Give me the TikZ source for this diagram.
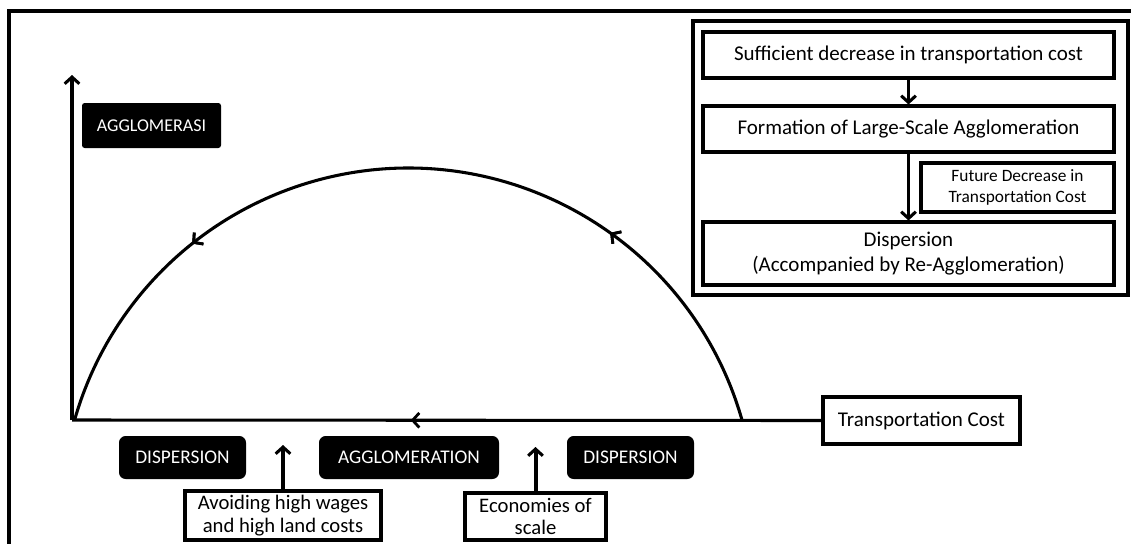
\documentclass[tikz,border=0pt]{standalone}
\usepackage{fontspec}
\setmainfont{Carlito}
\usetikzlibrary{arrows.meta,decorations.markings,positioning}

\begin{document}
\begin{tikzpicture}[x=0.75pt,y=-0.75pt,line width=2.3pt,
	whitebox/.style={draw,line width=2.3pt,fill=white,inner sep=0pt,align=center,font=\fontsize{15.75}{18.5}\selectfont},
	blackbox/.style={fill=black,rounded corners=5pt,text=white,inner sep=0pt,font=\fontsize{14.5}{17}\selectfont},
	barb/.style={-{Straight Barb[length=5pt,width=11pt,line width=2.3pt]}},
	midleft/.style={postaction={decorate},decoration={markings,
		mark=at position #1 with {\arrow{Straight Barb[length=5pt,width=11pt,line width=2.1pt]}}}}]
	
	\useasboundingbox (0,0) rectangle (1131,543);
	
	% frame
	\draw (9,560) -- (9,11) -- (1140,11);
	
	\coordinate (origin) at (72,420);
	\coordinate (ytip) at (72,75);
	\coordinate (arcR) at (742,420);
	
	% axes
	\draw[barb] (origin) -- (ytip);
	\node[blackbox,rounded corners=2pt,minimum width=104.25pt,minimum height=33.75pt,font=\fontsize{13.5}{16}\selectfont] (agglo) at (151.5,125.5) {AGGLOMERASI};
	\node[whitebox,minimum width=147.75pt,minimum height=35.25pt] (tcost) at (921.5,420.5) {Transportation Cost};
	\draw[midleft=0.548] (tcost.west) -- (origin);
	
	% the cycle
	\draw[midleft=0.26,postaction={decorate},decoration={markings,
		mark=at position 0.76 with {\arrow{Straight Barb[length=5pt,width=11pt,line width=2.1pt]}}}]
		(arcR) arc[start angle=-15.9,end angle=-164.1,radius=347];
	
	% regimes
	\node[blackbox,minimum width=95.25pt,minimum height=32.25pt] (dispL) at (182.5,457.5) {DISPERSION};
	\node[blackbox,minimum width=135pt,minimum height=32.25pt] (aggloM) at (409,457.5) {AGGLOMERATION};
	\node[blackbox,minimum width=95.25pt,minimum height=32.25pt] (dispR) at (630.5,457.5) {DISPERSION};
	
	\node[whitebox,minimum width=147pt,minimum height=36.75pt,font=\fontsize{15.5}{17}\selectfont] (wages) at (283,515.5) {Avoiding high wages\\and high land costs};
	\node[whitebox,minimum width=105.75pt,minimum height=35.25pt,font=\fontsize{15.5}{17}\selectfont] (scale) at (535.5,516.5) {Economies of\\scale};
	\coordinate (up1) at (283,445);
	\coordinate (up2) at (535.5,447);
	\draw[barb,line width=3pt] (wages) -- (up1);
	\draw[barb,line width=3pt] (scale) -- (up2);
	
	% flow panel
	\node[draw,line width=2.3pt,minimum width=326.25pt,minimum height=205.5pt] (panel) at (910.5,158) {};
	\node[whitebox,minimum width=308.25pt,minimum height=34.5pt] (step1) at (908.5,55) {Sufficient decrease in transportation cost};
	\node[whitebox,minimum width=308.25pt,minimum height=34.5pt] (step2) at (908.5,129) {Formation of Large-Scale Agglomeration};
	\node[whitebox,minimum width=144.75pt,minimum height=36.75pt,font=\fontsize{13}{15.5}\selectfont] (future) at (1017.5,187.5) {Future Decrease in\\Transportation Cost};
	\node[whitebox,minimum width=308.25pt,minimum height=47.25pt] (step3) at (908.5,253.5) {Dispersion\\(Accompanied by Re-Agglomeration)};
	\draw[barb] (step1) -- (step2);
	\draw[barb] (step2) -- (step3);
	
\end{tikzpicture}
\end{document}
